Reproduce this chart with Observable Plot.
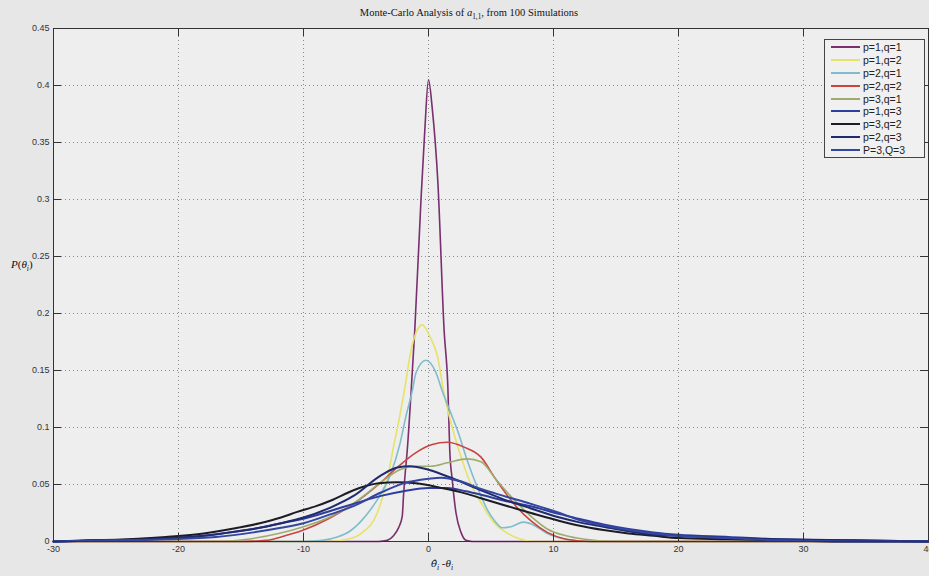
<!DOCTYPE html>
<html><head><meta charset="utf-8">
<script src="https://cdn.jsdelivr.net/npm/d3@7"></script>
<script src="https://cdn.jsdelivr.net/npm/@observablehq/plot@0.6"></script>
<style>
html,body{margin:0;padding:0;background:#e7e7e7;}
#wrap{position:relative;width:929px;height:576px;overflow:hidden;background:#e7e7e7;}
#title{height:24px;position:relative;}
#title span{position:absolute;left:469px;top:7px;transform:translateX(-50%);white-space:nowrap;font-family:'Liberation Serif','Times New Roman',serif;font-size:10.5px;color:#111;}
#title sub, .lab sub{font-size:70%;}
.lab{position:absolute;white-space:nowrap;font-family:'Liberation Serif','Times New Roman',serif;color:#111;font-size:11px;}
#ylab{left:11px;top:258px;}
#xlab{left:442px;top:557px;transform:translateX(-50%);}
.dj{font-family:'DejaVu Serif',serif;font-size:10px;}
#legend{position:absolute;left:824px;top:39px;width:101px;height:119px;box-sizing:border-box;border:1px solid #444;background:#f0f0f0;padding-top:1px;}
#legend .row{display:flex;align-items:center;height:12.8px;}
#legend svg{margin-left:4px;display:block;}
#legend span{margin-left:2px;font-family:'Liberation Sans',Arial,sans-serif;font-size:10.5px;color:#222;line-height:12px;}
</style></head>
<body>
<div id="wrap">
  <div id="title"><span>Monte-Carlo Analysis of <i>a</i><sub>1,1</sub>, from 100 Simulations</span></div>
  <div id="chart"></div>
  <div class="lab" id="ylab"><i>P</i>(<i>θ</i><sub><i>i</i></sub>)</div>
  <div class="lab" id="xlab"><i class="dj">θ̂</i><sub><i>i</i></sub> -<i>θ</i><sub><i>i</i></sub></div>
  <div id="legend"></div>
</div>
<script>
const xTicks = [-30, -20, -10, 0, 10, 20, 30, 40];
const yTicks = [0, 0.05, 0.1, 0.15, 0.2, 0.25, 0.3, 0.35, 0.4, 0.45];

const seriesNames = ["p=1,q=1", "p=1,q=2", "p=2,q=1", "p=2,q=2", "p=3,q=1", "p=1,q=3", "p=3,q=2", "p=2,q=3", "P=3,Q=3"];
const seriesColors = ["#7a2f6e", "#e6e26a", "#80bccb", "#c9443f", "#9dac6c", "#2d3f9c", "#1c1c26", "#1f2b6e", "#3445a2"];

const s11 = [[-30,0],[-4,0],[-3.3,0.001],[-2.8,0.005],[-2.4,0.012],[-2.1,0.022],[-2.0,0.04],[-1.9,0.055],[-1.7,0.08],[-1.4,0.13],[-1.1,0.185],[-0.6,0.3],[-0.3,0.36],[0,0.405],[0.3,0.38],[0.75,0.315],[1.25,0.185],[1.55,0.135],[1.7,0.08],[1.9,0.054],[2.2,0.025],[2.6,0.008],[3.0,0.001],[3.5,0],[40,0]];
const s12 = [[-30,0],[-8,0],[-6.5,0.002],[-5.4,0.007],[-4.1,0.025],[-3.3,0.054],[-2.8,0.083],[-2.3,0.11],[-1.8,0.141],[-1.5,0.162],[-1.1,0.18],[-0.5,0.19],[0.1,0.18],[0.75,0.161],[1.2,0.132],[1.9,0.1],[2.7,0.071],[3.4,0.05],[4.2,0.034],[5.2,0.017],[6.2,0.008],[7.1,0.003],[8.5,0],[40,0]];
const s21 = [[-30,0],[-10,0],[-8.5,0.001],[-7.3,0.004],[-6.3,0.009],[-5.3,0.019],[-4.5,0.03],[-3.8,0.042],[-3.0,0.06],[-2.3,0.085],[-1.8,0.11],[-1.3,0.132],[-1.0,0.148],[-0.2,0.159],[0.6,0.148],[1.1,0.132],[1.7,0.115],[2.4,0.095],[3.1,0.071],[4.0,0.045],[4.7,0.028],[5.3,0.018],[5.9,0.012],[6.6,0.013],[7.6,0.017],[8.3,0.015],[9.5,0.007],[11,0.002],[13,0],[40,0]];
const s22 = [[-30,0],[-15,0],[-13,0.001],[-11.8,0.004],[-10,0.01],[-8,0.02],[-6,0.033],[-4,0.05],[-2.5,0.065],[-1,0.078],[0.3,0.085],[1.5,0.087],[2.8,0.083],[4.2,0.074],[5.3,0.056],[6.2,0.042],[7,0.031],[8.2,0.018],[9.5,0.008],[11,0.002],[13,0],[40,0]];
const s31 = [[-30,0],[-17,0],[-14.5,0.002],[-12,0.007],[-10,0.013],[-7.8,0.022],[-5.8,0.035],[-3.8,0.052],[-2.3,0.063],[-1,0.066],[0.2,0.066],[1.5,0.069],[3.1,0.0725],[4.2,0.07],[5.5,0.053],[6.9,0.036],[8.2,0.022],[9.5,0.011],[11,0.005],[12.5,0.002],[15,0],[40,0]];
const s13 = [[-30,0],[-26,0.001],[-21,0.003],[-18,0.005],[-16,0.008],[-13.5,0.012],[-11.8,0.016],[-10,0.02],[-7.8,0.027],[-6,0.033],[-3.8,0.04],[-2,0.044],[0,0.047],[1.5,0.047],[3,0.044],[4.2,0.041],[6,0.036],[8.2,0.031],[10.5,0.024],[12,0.02],[14,0.015],[16,0.011],[18,0.008],[20,0.006],[24,0.004],[28,0.002],[34,0.001],[40,0]];
const s32 = [[-30,0],[-27,0.001],[-24,0.002],[-21,0.004],[-18,0.007],[-15.8,0.011],[-13.5,0.016],[-11.8,0.021],[-10.5,0.026],[-9,0.031],[-7.8,0.036],[-6,0.045],[-4,0.051],[-2.5,0.052],[-1,0.051],[1,0.047],[3,0.042],[4.2,0.038],[6,0.032],[8.2,0.025],[10.5,0.018],[12,0.014],[14,0.01],[16,0.007],[18,0.005],[20,0.003],[24,0.002],[28,0.001],[33,0],[40,0]];
const s23 = [[-30,0],[-26,0.001],[-22,0.002],[-18,0.005],[-15.8,0.008],[-13.5,0.012],[-11.8,0.016],[-10,0.021],[-7.8,0.03],[-6,0.04],[-3.8,0.058],[-2.5,0.065],[-1.5,0.066],[0,0.063],[2,0.055],[4.2,0.045],[6,0.037],[8.2,0.029],[10.5,0.021],[12,0.017],[14,0.013],[16,0.009],[18,0.006],[20,0.005],[24,0.003],[28,0.002],[34,0.001],[40,0]];
const s33 = [[-30,0],[-25,0.001],[-21,0.002],[-17,0.004],[-14,0.008],[-11.8,0.012],[-10,0.016],[-7.8,0.024],[-6,0.031],[-3.8,0.043],[-2,0.051],[0,0.055],[1,0.056],[2.5,0.053],[4.2,0.046],[6,0.04],[8.2,0.033],[10.5,0.025],[12,0.019],[14,0.014],[16,0.01],[18,0.007],[20,0.005],[24,0.003],[28,0.001],[34,0],[40,0]];

const seriesData = [s11, s12, s21, s22, s31, s13, s32, s23, s33];
const seriesWidths = [1.6, 1.6, 1.6, 1.6, 1.6, 2, 2, 2, 2];

const W = 929, H = 552, mL = 53, mR = 1, mT = 4, mB = 35;
const innerW = W - mL - mR, innerH = H - mT - mB;

const lineMarks = seriesData.map((pts, i) => Plot.line(pts, {
  x: d => d[0], y: d => d[1], stroke: seriesColors[i], strokeWidth: seriesWidths[i], curve: "monotone-x"
}));

const chart = Plot.plot({
  width: W, height: H, marginLeft: mL, marginRight: mR, marginTop: mT, marginBottom: mB,
  style: {background: "transparent", fontFamily: "'Liberation Sans', Arial, sans-serif", fontSize: "9px", color: "#333"},
  x: {domain: [-30, 40]},
  y: {domain: [0, 0.45]},
  marks: [
    Plot.frame({fill: "#eeeeee", stroke: null}),
    Plot.ruleX(xTicks, {x: d => d, stroke: "#8a8a8a", strokeDasharray: "1,3"}),
    Plot.ruleY(yTicks, {y: d => d, stroke: "#8a8a8a", strokeDasharray: "1,3"}),
    ...lineMarks,
    Plot.frame({stroke: "#333"}),
    Plot.ruleX(xTicks, {x: d => d, insetTop: innerH - 8, stroke: "#333"}),
    Plot.ruleX(xTicks, {x: d => d, insetBottom: innerH - 8, stroke: "#333"}),
    Plot.ruleY(yTicks, {y: d => d, insetRight: innerW - 8, stroke: "#333"}),
    Plot.ruleY(yTicks, {y: d => d, insetLeft: innerW - 8, stroke: "#333"}),
    Plot.axisX({ticks: xTicks, tickSize: 0, tickPadding: 4, tickFormat: d => String(d), label: null}),
    Plot.axisY({ticks: yTicks, tickSize: 0, tickPadding: 4, tickFormat: d => String(d), label: null})
  ]
});
document.getElementById("chart").appendChild(chart);

const legend = document.getElementById("legend");
seriesNames.forEach((name, i) => {
  const row = document.createElement("div");
  row.className = "row";
  row.innerHTML = `<svg width="32" height="12"><line x1="2" x2="31" y1="6" y2="6" stroke="${seriesColors[i]}" stroke-width="2"/></svg><span>${name}</span>`;
  legend.appendChild(row);
});
</script>
</body></html>
